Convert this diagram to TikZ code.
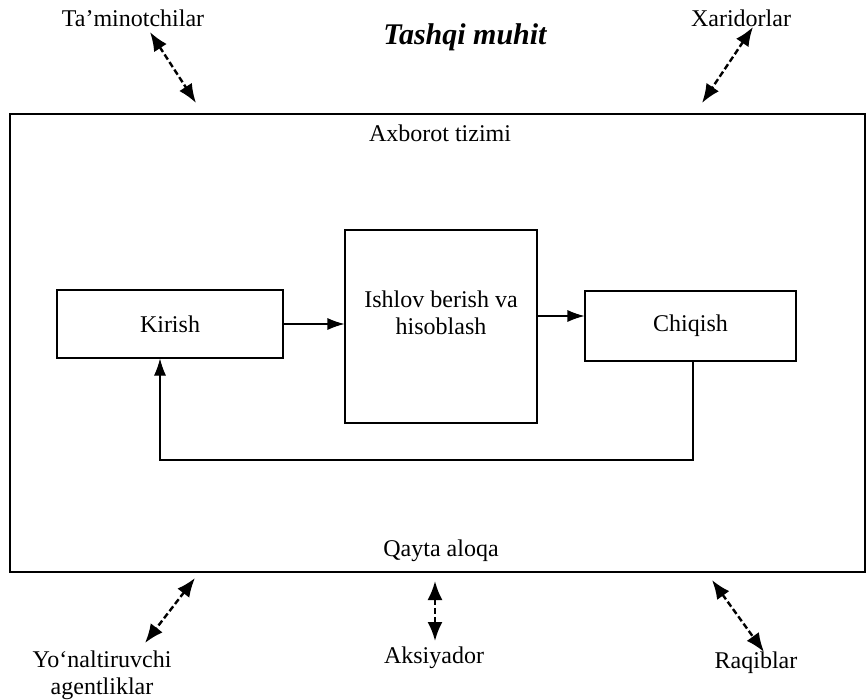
\documentclass[tikz,border=0pt]{standalone}
\usepackage{fontspec}
\setmainfont{Liberation Serif}
\usetikzlibrary{arrows.meta}
\begin{document}
\begin{tikzpicture}[x=1pt,y=-1pt,
  lbl/.style={font=\fontsize{24}{27}\selectfont, inner sep=0pt, align=center},
  blk/.style={draw, line width=1.1pt, inner sep=0pt, font=\fontsize{24}{27}\selectfont, align=center},
  flow/.style={line width=1.1pt, -{Latex[length=17pt,width=12pt]}},
  rel/.style={line width=2.4pt, dash pattern=on 6pt off 3pt, {Latex[length=19pt,width=15pt]}-{Latex[length=19pt,width=15pt]}}]
\useasboundingbox (0,0) rectangle (867,699);
% outer system
\node[draw, line width=1.2pt, minimum width=855pt, minimum height=458pt, inner sep=0pt] (sys) at (437.5,343) {};
\node[lbl, font=\fontsize{30}{34}\selectfont\bfseries\itshape] (title) at (465,37) {Tashqi muhit};
\node[lbl] (ax) at (440,133) {Axborot tizimi};
\node[lbl] (qa) at (441,551) {Qayta aloqa};
% blocks
\node[blk, minimum width=226pt, minimum height=68pt] (kir) at (170,324) {Kirish};
\node[blk, minimum width=192pt, minimum height=193pt] (ish) at (441,326.5) {};
\node[lbl] (ishtxt) at (441,313) {Ishlov berish va\\hisoblash};
\node[blk, minimum width=211pt, minimum height=70pt] (chi) at (690.5,326) {Chiqish};
\draw[flow] (kir.east) -- (ish.west |- kir.east);
\coordinate (y2) at (0,316);
\draw[flow] (ish.east |- y2) -- (chi.west |- y2);
\coordinate (fb) at (0,460);
\coordinate (chs) at ([xshift=2.5pt]chi.south);
\coordinate (kis) at ([xshift=-10pt]kir.south);
\draw[flow] (chs) -- (chs |- fb) -| (kis);
% environment labels
\node[lbl] (tam) at (133,18) {Ta’minotchilar};
\node[lbl] (xar) at (741,18) {Xaridorlar};
\node[lbl] (yon) at (102,675) {Yo‘naltiruvchi\\agentliklar};
\node[lbl] (aks) at (434,658) {Aksiyador};
\node[lbl] (raq) at (756,663) {Raqiblar};
% relation arrows
\coordinate (t1) at (150,32); \coordinate (t2) at (196,103);
\coordinate (x1) at (753,27); \coordinate (x2) at (702,103);
\coordinate (y1) at (195,578); \coordinate (y2b) at (145,643);
\coordinate (a1) at (435,581); \coordinate (a2) at (435,641);
\coordinate (r1) at (712,580); \coordinate (r2) at (764,652);
\draw[rel] (t1) -- (t2);
\draw[rel] (x1) -- (x2);
\draw[rel] (y1) -- (y2b);
\draw[rel] (a1) -- (a2);
\draw[rel] (r1) -- (r2);
\end{tikzpicture}
\end{document}
